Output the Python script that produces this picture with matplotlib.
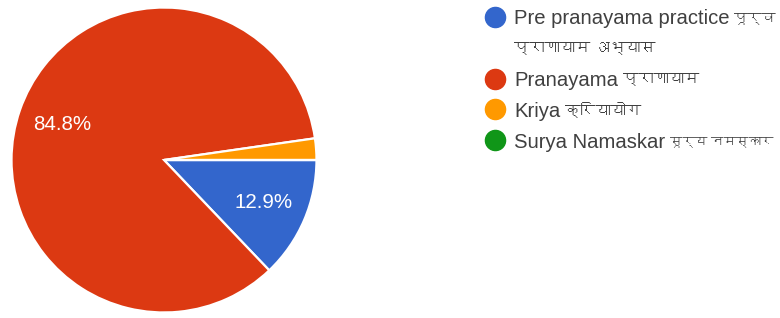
import matplotlib
matplotlib.use("Agg")
from matplotlib import pyplot as plt
from matplotlib import font_manager
from matplotlib.ft2font import FT2Font

# legend labels: (latin part, devanagari part) per line
labels = [[("Pre pranayama practice", "पूर्व"), ("", "प्राणायाम अभ्यास")],
          [("Pranayama", "प्राणायाम")],
          [("Kriya", "क्रियायोग")],
          [("Surya Namaskar", "सूर्य नमस्कार")]]
counts = [17, 112, 3, 0]
colors = ["#3366cc", "#dc3912", "#ff9900", "#109618"]

# look for any installed font that can draw devanagari
deva = None
for f in font_manager.fontManager.ttflist:
    try:
        if FT2Font(f.fname).get_char_index(ord("प")):
            deva = f.name
            break
    except Exception:
        pass
fams = ["Liberation Sans"] + ([deva] if deva else []) + ["DejaVu Sans"]
plt.rcParams["font.family"] = fams

W, H = 780, 318
fig = plt.figure(figsize=(W / 100, H / 100), dpi=100)
fig.patch.set_facecolor("white")

# pie: centre ~(164,160) px, radius ~154 px
cx, cy, r = 164, 160, 154
ax = fig.add_axes([(cx - r) / W, (H - cy - r) / H, 2 * r / W, 2 * r / H])


def pct(p):
    return "{:.1f}%".format(p) if p >= 5 else ""


wedges, texts, autotexts = ax.pie(counts, colors=colors, startangle=0, counterclock=False,
                                  autopct=pct, pctdistance=0.71, radius=1,
                                  wedgeprops=dict(edgecolor="white", linewidth=1.6))
for t in autotexts:
    t.set_color("white")
    t.set_fontsize(14.8)
ax.set_xlim(-1.01, 1.01)
ax.set_ylim(-1.01, 1.01)
ax.axis("off")

# legend drawn by hand in pixel coords
lax = fig.add_axes([0, 0, 1, 1])
lax.set_xlim(0, W)
lax.set_ylim(H, 0)
lax.axis("off")
rend = fig.canvas.get_renderer()
txtc = "#404040"
y = 17
step = 30.8
for lines, c in zip(labels, colors):
    lax.plot([495], [y], "o", ms=14.5, color=c, mec=c)
    for i, (lat, dev) in enumerate(lines):
        if i > 0:
            y += step
        if lat:
            t = lax.text(514, y, lat, fontsize=14.6, color=txtc, va="center_baseline")
            d = lax.annotate(dev, xy=(1, y), xycoords=(t, "data"), xytext=(5, 0),
                             textcoords="offset pixels", fontsize=11, color=txtc,
                             va="center_baseline")
        else:
            d = lax.text(514, y, dev, fontsize=11, color=txtc, va="center_baseline")
        # shrink the devanagari bit if it runs off the right edge
        fs = 11
        while d.get_window_extent(rend).x1 > W - 3 and fs > 6:
            fs -= 0.5
            d.set_fontsize(fs)
    y += step

fig.savefig("out.png", dpi=100, facecolor="white")
